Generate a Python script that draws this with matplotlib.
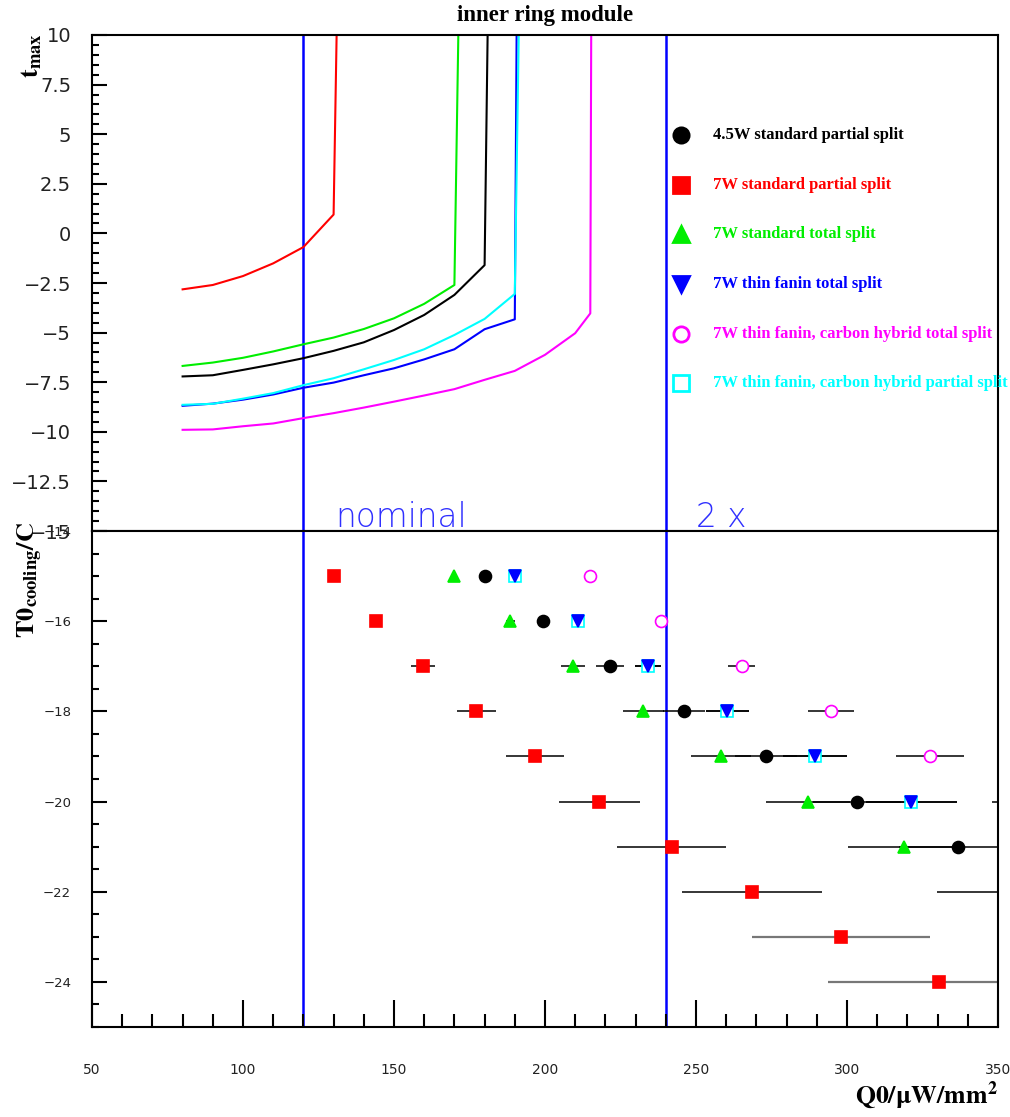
import matplotlib
matplotlib.use("Agg")
import matplotlib.pyplot as plt
import numpy as np
from matplotlib.ticker import MultipleLocator, FuncFormatter

plt.rcParams['mathtext.fontset'] = 'stix'

# ---------------- data ----------------
labels = ["4.5W standard partial split", "7W standard partial split",
          "7W standard total split", "7W thin fanin total split",
          "7W thin fanin, carbon hybrid total split",
          "7W thin fanin, carbon hybrid partial split"]
colors = ["#000000", "#ff0000", "#00ee00", "#0000ff", "#ff00ff", "#00ffff"]
markers = ["o", "s", "^", "v", "o", "s"]
filled = [True, True, True, True, False, False]

# top panel: t_max vs Q0 curves
black_x = [80, 90, 100, 110, 120, 130, 140, 150, 160, 170, 180, 181]
black_y = [-7.21, -7.15, -6.88, -6.6, -6.29, -5.92, -5.49, -4.87, -4.11, -3.1, -1.6, 10]
red_x = [80, 90, 100, 110, 120, 130, 131]
red_y = [-2.82, -2.6, -2.15, -1.51, -0.69, 0.95, 10]
green_x = [80, 90, 100, 110, 120, 130, 140, 150, 160, 170, 171.3]
green_y = [-6.68, -6.51, -6.27, -5.95, -5.59, -5.25, -4.82, -4.28, -3.55, -2.6, 10]
blue_x = [80, 90, 100, 110, 120, 130, 140, 150, 160, 170, 180, 190, 190.6]
blue_y = [-8.69, -8.58, -8.38, -8.12, -7.78, -7.52, -7.15, -6.8, -6.35, -5.84, -4.83, -4.33, 10]
magenta_x = [80, 90, 100, 110, 120, 130, 140, 150, 160, 170, 180, 190, 200, 210, 215, 215.3]
magenta_y = [-9.9, -9.88, -9.72, -9.58, -9.31, -9.06, -8.78, -8.48, -8.17, -7.85, -7.38, -6.93,
             -6.12, -5.03, -4.03, 10]
cyan_x = [80, 90, 100, 110, 120, 130, 140, 150, 160, 170, 180, 190, 191.3]
cyan_y = [-8.64, -8.59, -8.33, -8.05, -7.65, -7.3, -6.85, -6.38, -5.84, -5.12, -4.31, -3.05, 10]

# bottom panel: T0_cooling vs Q0 with horizontal errors
T0 = [-15, -16, -17, -18, -19, -20, -21, -22, -23, -24]
black_q = [180, 199.5, 221.5, 246, 273.2, 303.4, 336.8]
black_e = [0, 2, 4.6, 7, 10.2, 14.5, 19.5]
red_q = [130, 144, 159.7, 177.3, 196.7, 218.0, 242.0, 268.5, 297.9, 330.5]
red_e = [0, 1.5, 4, 6.5, 9.7, 13.5, 18, 23.3, 29.5, 36.7]
green_q = [170, 188.5, 209.3, 232.6, 258.3, 287.1, 318.8, 353.8]
green_e = [0, 1.5, 4, 6.7, 9.9, 14, 18.6, 24]
blue_q = [190, 210.8, 234.1, 260.4, 289.3, 321.3]
blue_e = [0, 1.5, 4.2, 7, 10.6, 15.1]
magenta_q = [215, 238.5, 265.1, 294.7, 327.4, 364]
magenta_e = [0, 1.5, 4.5, 7.7, 11.3, 16]
cyan_q = [190, 210.8, 234.1, 260.4, 289.3, 321.3]
cyan_e = [0, 1.5, 4.2, 7, 10.6, 15.1]

curves_x = [black_x, red_x, green_x, blue_x, magenta_x, cyan_x]
curves_y = [black_y, red_y, green_y, blue_y, magenta_y, cyan_y]
points_q = [black_q, red_q, green_q, blue_q, magenta_q, cyan_q]
points_e = [black_e, red_e, green_e, blue_e, magenta_e, cyan_e]

ref_lines = [120, 240]
ref_texts = ["nominal", "2 x"]
ref_text_x = [130.5, 250]

# ---------------- figure ----------------
W, H = 1010, 1117
fig = plt.figure(figsize=(W / 100, H / 100), dpi=100)
L, R = 92, 998
ax_top = fig.add_axes([L / W, 1 - 531 / H, (R - L) / W, 496 / H])
ax_bot = fig.add_axes([L / W, 1 - 1027 / H, (R - L) / W, 496 / H])

fmt = FuncFormatter(lambda v, p: f"{v:g}".replace('-', '\u2212'))
tickfont = 'DejaVu Sans'
tickcol = '#222222'

for ax in (ax_top, ax_bot):
    ax.set_xlim(50, 350)
    for s in ax.spines.values():
        s.set_linewidth(1.5)
    for xv in ref_lines:
        ax.axvline(xv, color='#0000ff', lw=1.8, zorder=1)

# top panel
ax_top.set_ylim(-15, 10)
ax_top.yaxis.set_major_locator(MultipleLocator(2.5))
ax_top.yaxis.set_minor_locator(MultipleLocator(0.5))
ax_top.yaxis.set_major_formatter(fmt)
ax_top.tick_params(axis='y', which='major', direction='in', length=11, width=1.5, pad=15,
                   labelsize=14, labelfontfamily=tickfont, labelcolor=tickcol, right=False)
ax_top.tick_params(axis='y', which='minor', direction='in', length=5, width=1.5, right=False)
ax_top.tick_params(axis='x', which='both', bottom=False, labelbottom=False, top=False)

for cx, cy, c in zip(curves_x, curves_y, colors):
    ax_top.plot(cx, cy, color=c, lw=1.5, zorder=2)

for t, tx in zip(ref_texts, ref_text_x):
    ax_top.text(tx, -14.8, t, color='#3030ff', fontsize=23.5, family='DejaVu Sans',
                fontweight='light', va='baseline', ha='left', zorder=3)

# legend (manual, ROOT style)
for i, (lab, c, m, f) in enumerate(zip(labels, colors, markers, filled)):
    yy = 0.798 - i * 0.1
    ax_top.plot([0.650], [yy], marker=m, transform=ax_top.transAxes, ms=11,
                mfc=c if f else 'white', mec=c, mew=2, ls='none', clip_on=False)
    ax_top.text(0.6854, yy, lab, transform=ax_top.transAxes, color=c, fontsize=12,
                family='Liberation Serif', fontweight='bold', va='center', ha='left')

# bottom panel
ax_bot.set_ylim(-25, -14)
ax_bot.yaxis.set_major_locator(MultipleLocator(2))
ax_bot.yaxis.set_minor_locator(MultipleLocator(0.5))
ax_bot.yaxis.set_major_formatter(fmt)
ax_bot.xaxis.set_major_locator(MultipleLocator(50))
ax_bot.xaxis.set_minor_locator(MultipleLocator(10))
ax_bot.xaxis.set_major_formatter(fmt)
ax_bot.tick_params(axis='y', which='major', direction='in', length=11, width=1.5, pad=15,
                   labelsize=9.5, labelfontfamily=tickfont, labelcolor=tickcol, right=False)
ax_bot.tick_params(axis='y', which='minor', direction='in', length=5, width=1.5, right=False)
ax_bot.tick_params(axis='x', which='major', direction='in', length=19.5, width=1.5, pad=26,
                   labelsize=10, labelfontfamily=tickfont, labelcolor=tickcol, top=False)
ax_bot.tick_params(axis='x', which='minor', direction='in', length=9.5, width=1.5, top=False)

# error bars (horizontal)
for q, e in zip(points_q, points_e):
    q = np.array(q)
    e = np.array(e)
    yy = np.array(T0[:len(q)])
    cols = ['#777777' if y <= -23 else 'black' for y in yy]
    lws = [1.6 if y <= -23 else 1.1 for y in yy]
    ax_bot.hlines(yy, q - e, q + e, colors=cols, linewidths=lws, zorder=2)

# markers: cyan squares under blue triangles
order = [5, 0, 1, 2, 3, 4]
for i in order:
    q = points_q[i]
    c = colors[i]
    f = filled[i]
    ax_bot.plot(q, T0[:len(q)], ls='none', marker=markers[i], ms=8.6 if markers[i] != 's' else 8.2,
                mfc=c if f else 'white', mec=c, mew=1.2, zorder=3)

# labels and title
fig.text(545 / W, 1 - 15 / H, 'inner ring module', ha='center', va='center',
         family='Liberation Serif', fontweight='bold', fontsize=16.5)
fig.text(31 / W, 1 - 56 / H, r'$\mathbf{t_{max}}$', rotation=90, ha='center', va='center',
         fontsize=19)
fig.text(30 / W, 1 - 580 / H, r'$\mathbf{T0_{cooling}/C}$', rotation=90, ha='center',
         va='center', fontsize=19)
fig.text(998 / W, 1 - 1096 / H, r'$\mathbf{Q0/\mu W/mm^2}$', ha='right', va='center',
         fontsize=18.5)

fig.savefig('out.png', dpi=100)
